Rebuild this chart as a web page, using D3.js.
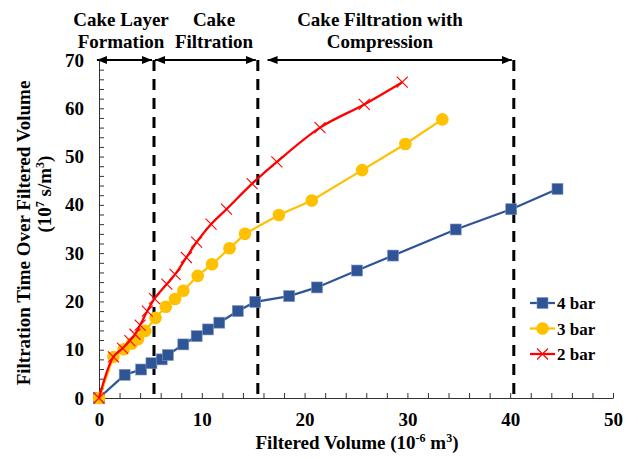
<!DOCTYPE html>
<html>
<head>
<meta charset="utf-8">
<script src="https://cdn.jsdelivr.net/npm/d3@7"></script>
<style>
  body { margin: 0; background: #fff; }
  text { font-family: "Liberation Serif", "Times New Roman", serif; font-weight: bold; fill: #000; }
</style>
</head>
<body>
<div id="main"></div>
<script>
// filtered volume (10^-6 m3) and t/V (10^7 s/m3) per pressure
const vol4bar = [0, 2.5, 4.1, 5.1, 6.1, 6.7, 8.2, 9.5, 10.6, 11.7, 13.5, 15.2, 18.5, 21.2, 25.1, 28.6, 34.7, 40.1, 44.6];
const tv4bar  = [0, 4.8, 5.9, 7.2, 8.0, 8.9, 11.1, 12.8, 14.2, 15.6, 18.0, 19.9, 21.1, 22.9, 26.4, 29.5, 34.9, 39.1, 43.3];

const vol3bar = [0, 1.4, 2.4, 3.2, 3.8, 4.5, 5.5, 6.5, 7.4, 8.2, 9.6, 11.0, 12.7, 14.2, 17.5, 20.7, 25.6, 29.8, 33.4];
const tv3bar  = [0, 8.5, 10.1, 11.3, 12.2, 13.9, 16.6, 18.9, 20.5, 22.2, 25.3, 27.7, 31.0, 34.0, 37.9, 40.9, 47.2, 52.6, 57.7];

const vol2bar = [0, 1.4, 2.3, 3.0, 3.5, 4.0, 4.7, 5.4, 6.6, 7.4, 8.5, 9.5, 10.9, 12.4, 14.9, 17.3, 21.5, 25.8, 29.5];
const tv2bar  = [0, 8.5, 10.3, 11.9, 13.2, 15.1, 18.0, 20.6, 23.6, 25.6, 29.1, 32.3, 36.0, 39.1, 44.4, 48.9, 56.0, 60.8, 65.4];

const seriesNames = ['4 bar', '3 bar', '2 bar'];

// phase boundaries (filtered volume) and the labelled spans above the plot
const phaseBounds = [5.35, 15.45, 40.35];
const phaseNames = [['Cake Layer', 'Formation'], ['Cake', 'Filtration'], ['Cake Filtration with', 'Compression']];
const phaseFrom = [-0.3, 5.35, 16.3];
const phaseTo = [5.35, 15.45, 40.35];

const xTicks = d3.range(0, 51, 2);
const yTicks = d3.range(0, 71, 2);

const W = 638, H = 459;
const svg = d3.select('#main').append('svg').attr('width', W).attr('height', H);

const x = d3.scaleLinear().domain([0, 50]).range([99, 613]);
const y = d3.scaleLinear().domain([0, 70]).range([398, 60]);

const fmt = (d) => (d % 10 === 0 ? d : '');

const xAxis = svg.append('g')
  .attr('transform', 'translate(0,' + y(0) + ')')
  .call(d3.axisBottom(x).tickValues(xTicks).tickFormat(fmt).tickSizeInner(-5).tickSizeOuter(0).tickPadding(15));
const yAxis = svg.append('g')
  .attr('transform', 'translate(' + x(0) + ',0)')
  .call(d3.axisLeft(y).tickValues(yTicks).tickFormat(fmt).tickSizeInner(-5).tickSizeOuter(0).tickPadding(15));
[xAxis, yAxis].forEach((a) => {
  a.selectAll('text').style('font-size', '19px').style('font-family', '"Liberation Serif", serif').style('font-weight', 'bold');
  a.selectAll('line, path').attr('stroke', '#333').attr('stroke-width', 1);
});

// dashed phase lines
svg.selectAll('.phase')
  .data(phaseBounds)
.enter().append('line')
  .attr('x1', (d) => x(d)).attr('x2', (d) => x(d))
  .attr('y1', y(70)).attr('y2', y(0))
  .attr('stroke', '#000').attr('stroke-width', 3)
  .attr('stroke-dasharray', '11,8');

// arrow markers
const defs = svg.append('defs');
defs.append('marker').attr('id', 'arrEnd')
  .attr('viewBox', '0 0 10 10').attr('refX', 10).attr('refY', 5)
  .attr('markerWidth', 5).attr('markerHeight', 5).attr('markerUnits', 'strokeWidth')
  .attr('orient', 'auto')
  .append('path').attr('d', 'M0,1 L10,5 L0,9 Z').attr('fill', '#000');
defs.append('marker').attr('id', 'arrStart')
  .attr('viewBox', '0 0 10 10').attr('refX', 0).attr('refY', 5)
  .attr('markerWidth', 5).attr('markerHeight', 5).attr('markerUnits', 'strokeWidth')
  .attr('orient', 'auto')
  .append('path').attr('d', 'M10,1 L0,5 L10,9 Z').attr('fill', '#000');

svg.selectAll('.span')
  .data(phaseFrom)
.enter().append('line')
  .attr('x1', (d) => x(d) + 1)
  .attr('x2', (d, i) => x(phaseTo[i]) - 2)
  .attr('y1', y(70)).attr('y2', y(70))
  .attr('stroke', '#000').attr('stroke-width', 2)
  .attr('marker-start', 'url(#arrStart)')
  .attr('marker-end', 'url(#arrEnd)');

const headerX = [121, 214, 380];
phaseNames.forEach((lines, i) => {
  lines.forEach((t, j) => {
    svg.append('text')
      .attr('x', headerX[i]).attr('y', 26 + j * 22)
      .attr('text-anchor', 'middle')
      .style('font-size', '19px')
      .text(t);
  });
});

// series
const series = [
  { name: seriesNames[0], xs: vol4bar, ys: tv4bar, color: '#2F5597', curve: d3.curveLinear },
  { name: seriesNames[1], xs: vol3bar, ys: tv3bar, color: '#FFC000', curve: d3.curveLinear },
  { name: seriesNames[2], xs: vol2bar, ys: tv2bar, color: '#FF0000', curve: d3.curveCatmullRom.alpha(0.5) }
];

function drawMarker(g, s, px, py) {
  if (s.name === '4 bar') {
    g.append('rect').attr('x', px - 5.5).attr('y', py - 5.5).attr('width', 11).attr('height', 11)
      .attr('fill', s.color).attr('stroke', '#7F95C4').attr('stroke-width', 0.6);
  } else if (s.name === '3 bar') {
    g.append('circle').attr('cx', px).attr('cy', py).attr('r', 6.3).attr('fill', s.color);
  } else {
    g.append('path')
      .attr('d', 'M' + (px - 5.5) + ',' + (py - 5.5) + 'L' + (px + 5.5) + ',' + (py + 5.5) +
                 'M' + (px + 5.5) + ',' + (py - 5.5) + 'L' + (px - 5.5) + ',' + (py + 5.5))
      .attr('stroke', s.color).attr('stroke-width', 1.1).attr('fill', 'none');
  }
}

series.forEach((s) => {
  const pts = s.xs.map((v, i) => [v, s.ys[i]]);
  const g = svg.append('g');
  g.append('path')
    .datum(pts)
    .attr('fill', 'none')
    .attr('stroke', s.color)
    .attr('stroke-width', 2.25)
    .attr('d', d3.line().x((d) => x(d[0])).y((d) => y(d[1])).curve(s.curve));
  pts.forEach((d) => drawMarker(g, s, x(d[0]), y(d[1])));
});

// legend
const legend = svg.append('g');
series.forEach((s, i) => {
  const ly = 303 + i * 25.5;
  legend.append('line').attr('x1', 530).attr('x2', 555).attr('y1', ly).attr('y2', ly)
    .attr('stroke', s.color).attr('stroke-width', 2.25);
  drawMarker(legend, s, 542.5, ly);
  legend.append('text').attr('x', 557).attr('y', ly + 6)
    .style('font-size', '17px').text(s.name);
});

// axis titles
const xt = svg.append('text').attr('x', 357).attr('y', 449).attr('text-anchor', 'middle').style('font-size', '19px');
xt.append('tspan').text('Filtered Volume (10');
xt.append('tspan').attr('dy', -7).style('font-size', '12px').text('-6');
xt.append('tspan').attr('dy', 7).text(' m');
xt.append('tspan').attr('dy', -7).style('font-size', '12px').text('3');
xt.append('tspan').attr('dy', 7).text(')');

svg.append('text')
  .attr('transform', 'translate(30,233) rotate(-90)')
  .attr('text-anchor', 'middle').style('font-size', '19px')
  .text('Filtration Time Over Filtered Volume');

const yt2 = svg.append('text')
  .attr('transform', 'translate(51,194) rotate(-90)')
  .attr('text-anchor', 'middle').style('font-size', '19px');
yt2.append('tspan').text('(10');
yt2.append('tspan').attr('dy', -7).style('font-size', '12px').text('7');
yt2.append('tspan').attr('dy', 7).text(' s/m');
yt2.append('tspan').attr('dy', -7).style('font-size', '12px').text('3');
yt2.append('tspan').attr('dy', 7).text(')');
</script>
</body>
</html>
